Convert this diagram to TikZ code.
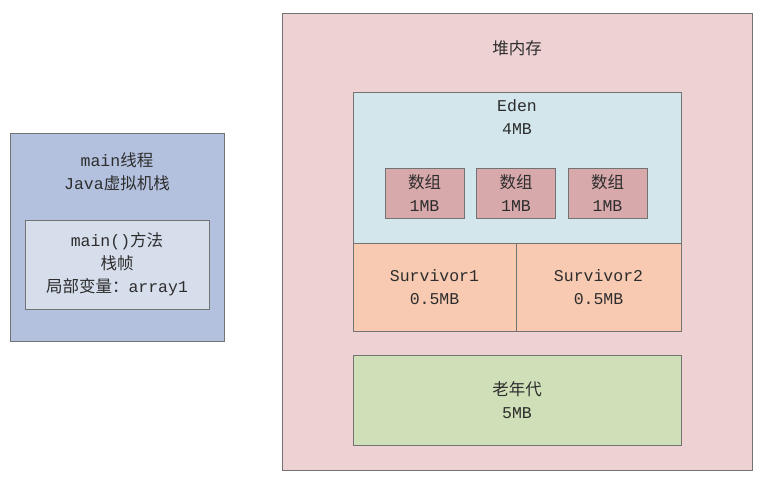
\documentclass[tikz,border=0pt]{standalone}
\usepackage{fontspec}
\setmonofont{Liberation Mono}
\newfontfamily\cjk{Noto Sans CJK SC}
\newcommand{\zh}[1]{{\cjk #1}}
\usetikzlibrary{positioning,chains}

\definecolor{stackblue}{RGB}{179,193,222}
\definecolor{frameblue}{RGB}{214,221,235}
\definecolor{heappink}{RGB}{238,210,211}
\definecolor{edenblue}{RGB}{211,230,236}
\definecolor{arrayred}{RGB}{216,169,171}
\definecolor{survpeach}{RGB}{248,202,177}
\definecolor{oldgreen}{RGB}{207,223,183}
\definecolor{txt}{RGB}{45,45,45}

\tikzset{
  box/.style={draw=black!55, line width=1pt, inner sep=0pt, outer sep=0pt, align=center,
    text=txt, font=\ttfamily\fontsize{16.5}{23}\selectfont},
  lbl/.style={align=center, text=txt, font=\ttfamily\fontsize{16.5}{23}\selectfont}
}

\begin{document}
\begin{tikzpicture}[x=1pt,y=-1pt]
\useasboundingbox (0,0) rectangle (765,483);

% thread stack
\node[box, fill=stackblue, minimum width=214pt, minimum height=208pt] (stack) at (117,237) {};
\node[lbl] (stacktitle) at (117,172) {main\zh{线程}\\Java\zh{虚拟机栈}};
\node[box, fill=frameblue, minimum width=184pt, minimum height=89pt] (frame) at (117,264.5)
  {main()\zh{方法}\\\zh{栈帧}\\\zh{局部变量：}array1};

% heap
\node[box, fill=heappink, minimum width=470pt, minimum height=457pt] (heap) at (517,241.5) {};
\node[lbl] (heaptitle) at (517,48) {\zh{堆内存}};

\node[box, fill=edenblue, minimum width=328pt, minimum height=151pt] (eden) at (517,167.5) {};
\node[lbl] (edentitle) at (517,117) {Eden\\4MB};

\begin{scope}[shift={(424.5,193)},start chain=going right,node distance=12.5pt]
\foreach \i in {1,2,3}
  \node[box, fill=arrayred, minimum width=79pt, minimum height=50pt, on chain] (arr\i) {\zh{数组}\\1MB};
\end{scope}

\node[box, fill=survpeach, minimum width=163pt, minimum height=88pt, anchor=north west] (surv1)
  at (eden.south west) {Survivor1\\0.5MB};
\node[box, fill=survpeach, minimum width=165pt, minimum height=88pt, anchor=north west] (surv2)
  at (surv1.north east) {Survivor2\\0.5MB};

\node[box, fill=oldgreen, minimum width=328pt, minimum height=90pt, anchor=north] (old)
  at (517,355) {\zh{老年代}\\5MB};

\end{tikzpicture}
\end{document}
